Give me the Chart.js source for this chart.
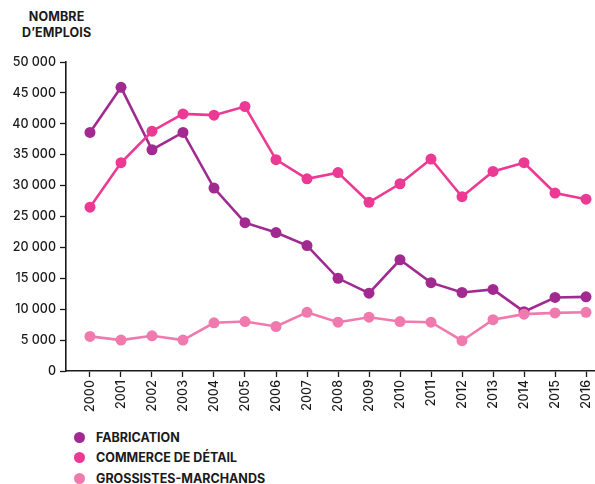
<!DOCTYPE html>
<html>
<head>
<meta charset="utf-8">
<script src="https://cdn.jsdelivr.net/npm/chart.js@4.4.1/dist/chart.umd.min.js"></script>
<style>
  html, body { margin:0; padding:0; background:#fff; }
  body { width:595px; height:484px; position:relative; overflow:hidden; font-family:Inter, "DejaVu Sans", sans-serif; color:#1a1a1a; }
  #title { position:absolute; left:22px; top:9px; font-size:12.5px; font-weight:700; line-height:16px; text-align:center; letter-spacing:0.1px; }
  #wrap { position:absolute; left:0; top:0; width:595px; height:420px; }
  #legend { position:absolute; left:74px; top:427px; font-size:12.5px; font-weight:700; }
  #legend div { height:20.5px; display:flex; align-items:center; }
  #legend span.dot { width:11px; height:11px; border-radius:50%; display:inline-block; margin-right:11px; }
</style>
</head>
<body>
<div id="title">NOMBRE<br>D’EMPLOIS</div>
<div id="wrap"><canvas id="chart" width="595" height="420"></canvas></div>
<div id="legend"></div>
<script>
const years=[2000,2001,2002,2003,2004,2005,2006,2007,2008,2009,2010,2011,2012,2013,2014,2015,2016];
const fabrication=[38600,45900,35800,38600,29600,24000,22400,20300,15000,12600,18000,14300,12700,13200,9600,11900,12000];
const commerce=[26500,33700,38800,41600,41400,42800,34200,31100,32100,27300,30300,34300,28200,32300,33700,28800,27800];
const grossistes=[5600,5000,5700,5000,7800,8000,7200,9500,7900,8700,8000,7900,4900,8300,9200,9400,9500];
const seriesNames=['FABRICATION','COMMERCE DE DÉTAIL','GROSSISTES-MARCHANDS'];
const colors=['#a12a91','#ec3a94','#f07aae'];
const yTicks=[0,5000,10000,15000,20000,25000,30000,35000,40000,45000,50000];

function pts(vals){
    return vals.map(function(v,i){ return {x:years[i],y:v}; });
}
const allSeries=[fabrication,commerce,grossistes];
const datasets=[];
for(let i=0;i<allSeries.length;i++){
    datasets.push({
        label:seriesNames[i],
        data:pts(allSeries[i]),
        borderColor:colors[i],
        backgroundColor:colors[i],
        borderWidth:2.6,
        pointRadius:5.5,
        pointHoverRadius:5.5,
        pointBorderWidth:0,
        tension:0
    });
}
// draw light pink first so the darker lines sit on top
datasets.reverse();

const tickFont={family:'Inter',size:12.5,weight:'500'};
new Chart(document.getElementById('chart'),{
    type:'line',
    data:{datasets:datasets},
    options:{
        responsive:false,
        animation:false,
        layout:{autoPadding:false,padding:{top:62,left:0,right:0,bottom:0}},
        plugins:{legend:{display:false},tooltip:{enabled:false}},
        scales:{
            x:{
                type:'linear',
                min:1999.226,
                max:2016.29,
                afterBuildTicks:function(s){ s.ticks=years.map(function(y){return {value:y};}); },
                afterFit:function(s){ s.height=49; s.paddingLeft=0; s.paddingRight=0; },
                grid:{drawOnChartArea:false,color:'#1a1a1a',tickLength:6,tickWidth:1.3},
                border:{color:'#1a1a1a',width:1.6},
                ticks:{
                    color:'#1a1a1a',font:tickFont,minRotation:90,maxRotation:90,autoSkip:false,padding:3,
                    callback:function(v){ return String(v); }
                }
            },
            y:{
                min:0,max:50000,
                afterBuildTicks:function(s){ s.ticks=yTicks.map(function(v){return {value:v};}); },
                afterFit:function(s){ s.width=66; s.paddingTop=0; s.paddingBottom=0; },
                grid:{drawOnChartArea:false,color:'#1a1a1a',tickLength:6,tickWidth:1.3},
                border:{color:'#1a1a1a',width:1.6},
                ticks:{
                    color:'#1a1a1a',font:tickFont,padding:4,
                    callback:function(v){ return String(v).replace(/\B(?=(\d{3})+(?!\d))/g,' '); }
                }
            }
        }
    }
});

const legend=document.getElementById('legend');
for(let i=0;i<seriesNames.length;i++){
    const row=document.createElement('div');
    row.innerHTML='<span class="dot" style="background:'+colors[i]+'"></span>'+seriesNames[i];
    legend.appendChild(row);
}
</script>
</body>
</html>
